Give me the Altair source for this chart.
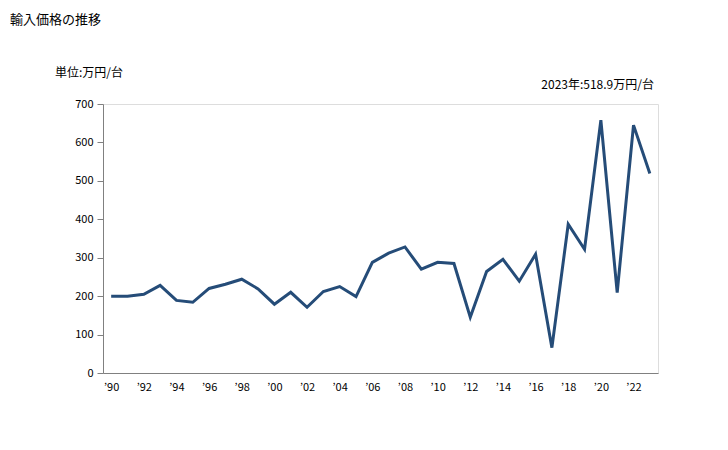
import altair as alt
import pandas as pd

years = list(range(1990, 2024))
values = [200, 200, 205, 228, 189, 184, 220, 231, 244, 219,
          179, 210, 171, 212, 225, 199, 288, 312, 328, 270,
          288, 285, 145, 264, 296, 239, 309, 66, 387, 322,
          658, 209, 645, 518.9]
tick_years = list(range(1990, 2023, 2))
y_ticks = [0, 100, 200, 300, 400, 500, 600, 700]

df = pd.DataFrame({"year": years, "value": values})
FONT = "Noto Sans CJK JP"

W, H = 555, 269
PL, PT = 95, 96
OX, OY = PL + 8, PT + 8

line = alt.Chart(df).mark_line(color="#254C78", strokeWidth=3).encode(
    x=alt.X("year:Q", scale=alt.Scale(domain=[1989.5, 2023.5], nice=False, zero=False),
            axis=alt.Axis(values=tick_years, labelExpr="'\u2019' + slice(toString(datum.value), 2)",
                          ticks=False, grid=False, title=None, domainColor="#808080",
                          labelFont=FONT, labelFontSize=11, labelColor="#000000", labelPadding=8)),
    y=alt.Y("value:Q", scale=alt.Scale(domain=[0, 700], nice=False),
            axis=alt.Axis(values=y_ticks, grid=False, title=None, domainColor="#808080",
                          tickColor="#808080", tickSize=6, labelFont=FONT, labelFontSize=11,
                          labelColor="#000000", labelPadding=4)),
)

def txt(s, x, y, align="left", size=11):
    return alt.Chart(pd.DataFrame({"t": [s]})).mark_text(
        align=align, baseline="middle", font=FONT, fontSize=size, color="#000000"
    ).encode(text="t:N", x=alt.value(x - OX), y=alt.value(y - OY))

title = txt("輸入価格の推移", 10, 20, size=13)
unit = txt("単位:万円/台", 55, 73, size=12)
note = txt("2023年:518.9万円/台", 654, 85, align="right", size=12)

chart = alt.layer(line, title, unit, note).properties(
    width=W, height=H,
    autosize=alt.AutoSizeParams(type="none"),
    padding={"left": PL, "top": PT, "right": 40, "bottom": 60},
).configure_view(stroke="#9C8E4A", strokeWidth=1.5).configure(background="#ffffff")

chart.save("out.html", embed_options={"renderer": "svg", "actions": False})
